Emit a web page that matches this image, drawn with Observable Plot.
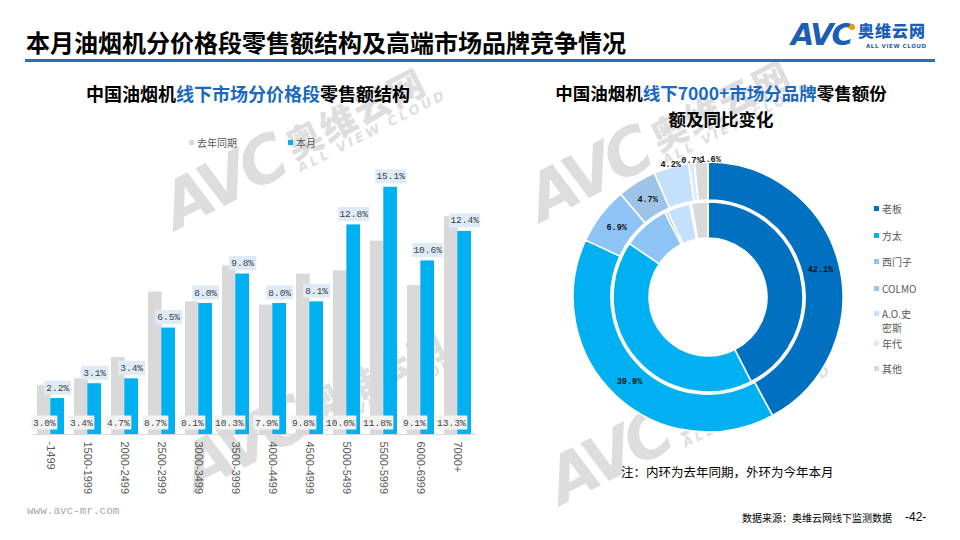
<!DOCTYPE html>
<html>
<head>
<meta charset="utf-8">
<script src="https://cdn.jsdelivr.net/npm/d3@7"></script>
<script src="https://cdn.jsdelivr.net/npm/@observablehq/plot@0.6"></script>
<style>
  body { margin: 0; background: #fff; }
  #page { position: relative; width: 960px; height: 540px; overflow: hidden; background: #fff;
          font-family: "Noto Sans CJK SC", "Noto Sans", sans-serif; }
  .abs { position: absolute; white-space: nowrap; }
  .wm { position: absolute; white-space: nowrap; transform: rotate(-27deg); transform-origin: 50% 50%;
        color: rgba(150,150,150,0.32); display: flex; align-items: flex-end; pointer-events: none; }
  .wm .a { font: italic 900 64px "DejaVu Sans"; letter-spacing: -5px; line-height: 1; }
  .wm .cn { margin-left: 10px; display: flex; flex-direction: column; white-space: nowrap; }
  .wm .c { font: 900 36px "Noto Sans CJK SC"; line-height: 1; letter-spacing: 2px; }
  .wm .e { font: italic 900 13px "DejaVu Sans"; letter-spacing: 3px; line-height: 1.3; }
  .leg { position: absolute; font-size: 10px; color: #595959; line-height: 14px; white-space: nowrap; }
  .sw { display: inline-block; width: 5px; height: 5px; margin-right: 3px; vertical-align: 2px; }
  #bars, #donut { position: absolute; }
</style>
</head>
<body>
<div id="page">
  <!-- watermarks -->
  <div class="wm" style="left:150px;top:110px;"><span class="a">AVC</span><span class="cn"><span class="c">奥维云网</span><span class="e">ALL VIEW CLOUD</span></span></div>
  <div class="wm" style="left:170px;top:372px;"><span class="a">AVC</span><span class="cn"><span class="c">奥维云网</span><span class="e">ALL VIEW CLOUD</span></span></div>
  <div class="wm" style="left:515px;top:102px;"><span class="a">AVC</span><span class="cn"><span class="c">奥维云网</span><span class="e">ALL VIEW CLOUD</span></span></div>
  <div class="wm" style="left:535px;top:385px;"><span class="a">AVC</span><span class="cn"><span class="c">奥维云网</span><span class="e">ALL VIEW CLOUD</span></span></div>

  <!-- header -->
  <div class="abs" style="left:26px;top:26px;font-size:24px;font-weight:bold;color:#000;line-height:32px;">本月油烟机分价格段零售额结构及高端市场品牌竞争情况</div>
  <div class="abs" style="left:25px;top:59px;width:910px;height:3px;background:#2f6db5;"></div>
  <div class="abs" style="left:791px;top:17px;font:italic 900 30px 'DejaVu Sans';color:#1c5db6;letter-spacing:-2px;line-height:36px;">AVC</div>
  <div class="abs" style="left:849px;top:24px;width:6px;height:6px;border-radius:3px;background:#f39800;"></div>
  <div class="abs" style="left:858px;top:21px;font-size:16px;font-weight:900;color:#1c5db6;line-height:18px;letter-spacing:1px;">奥维云网</div>
  <div class="abs" style="left:866px;top:43px;font:bold 5.5px 'DejaVu Sans';color:#1c5db6;letter-spacing:0.6px;line-height:7px;">ALL VIEW CLOUD</div>

  <!-- chart titles -->
  <div class="abs" style="left:86px;top:81px;font-size:18px;font-weight:bold;line-height:24px;color:#000;">中国油烟机<span style="color:#1b68bf">线下市场分价格段</span>零售额结构</div>
  <div class="abs" style="left:521px;top:80.3px;width:400px;text-align:center;font-size:17.5px;font-weight:bold;line-height:25.5px;color:#000;">中国油烟机<span style="color:#1b68bf">线下7000+市场分品牌</span>零售额份<br>额及同比变化</div>

  <!-- bar legend -->
  <div class="leg" style="left:189px;top:136px;line-height:13px;"><span class="sw" style="background:#d9d9d9"></span>去年同期</div>
  <div class="leg" style="left:288px;top:136px;line-height:13px;"><span class="sw" style="background:#00b0f0"></span>本月</div>

  <div id="bars" style="left:0px;top:140px;"></div>
  <div id="donut" style="left:558px;top:147px;"></div>

  <!-- donut legend -->
  <div id="dleg"></div>

  <div class="abs" style="left:621px;top:463px;font-size:12.5px;color:#000;line-height:18px;">注：内环为去年同期，外环为今年本月</div>

  <!-- footer -->
  <div class="abs" style="left:27px;top:505px;font:11px 'Liberation Mono';color:#a6a6a6;">www.avc-mr.com</div>
  <div class="abs" style="left:742px;top:511px;font-size:10px;color:#000;line-height:14px;">数据来源：奥维云网线下监测数据</div>
  <div class="abs" style="left:905px;top:509px;font:12px 'Liberation Sans';color:#000;line-height:16px;">-42-</div>
</div>

<script>
// ---------- data ----------
const priceBands = ["-1499","1500-1999","2000-2499","2500-2999","3000-3499","3500-3999",
                    "4000-4499","4500-4999","5000-5499","5500-5999","6000-6999","7000+"];
const lastYearShare  = [3.0, 3.4, 4.7, 8.7, 8.1, 10.3, 7.9, 9.8, 10.0, 11.8, 9.1, 13.3];
const thisMonthShare = [2.2, 3.1, 3.4, 6.5, 8.0, 9.8, 8.0, 8.1, 12.8, 15.1, 10.6, 12.4];
const seriesNames = ["去年同期", "本月"];
const seriesColors = ["#d9d9d9", "#00b0f0"];

const brands = ["老板", "方太", "西门子", "COLMO", "A.O.史密斯", "年代", "其他"];
const brandThisMonth = [42.1, 39.9, 6.9, 4.7, 4.2, 0.7, 1.6];
const brandLastYear  = [42.5, 42.0, 8.0, 0.5, 3.9, 0.3, 2.8];
const brandColors = ["#0070c0", "#00b0f0", "#8ec3f6", "#9dc3e6", "#c5e0fa", "#deebf7", "#d9d9d9"];
const legendLines = [["老板"], ["方太"], ["西门子"], ["COLMO"], ["A.O.史", "密斯"], ["年代"], ["其他"]];

// ---------- bar chart ----------
const barRows = priceBands.flatMap((b, i) => [
  {band: b, series: seriesNames[0], value: lastYearShare[i]},
  {band: b, series: seriesNames[1], value: thisMonthShare[i]}
]);
const grayRows = barRows.filter(d => d.series === seriesNames[0]);
const blueRows = barRows.filter(d => d.series === seriesNames[1]);
const half = 13.32;
const fmt = d => d.value.toFixed(1) + "%";
const boxSymbol = (w, h) => ({ draw(ctx) { ctx.rect(-w / 2, -h / 2, w, h); } });
const labelFont = {fontFamily: "Liberation Mono", fontSize: 9.5, fill: "#404040"};

const bars = Plot.plot({
  width: 490, height: 360,
  marginLeft: 32, marginRight: 14, marginTop: 32, marginBottom: 66,
  style: {background: "transparent", fontFamily: "Liberation Sans", fontSize: "11px"},
  x: {domain: priceBands, paddingInner: 0.28, paddingOuter: 0.14, label: null},
  y: {domain: [0, 16], axis: null},
  color: {domain: seriesNames, range: seriesColors},
  marks: [
    Plot.barY(grayRows, {x: "band", y: "value", fill: "series", insetRight: half}),
    Plot.barY(blueRows, {x: "band", y: "value", fill: "series", insetLeft: half}),
    Plot.ruleY([0], {stroke: "#d9d9d9", strokeWidth: 1}),
    Plot.dot(grayRows, {filter: d => d.value < 10, x: "band", y: d => 0, dx: -half / 2, dy: -12, symbol: boxSymbol(26, 14), fill: "#f2f2f2", stroke: "none"}),
    Plot.dot(grayRows, {filter: d => d.value >= 10, x: "band", y: d => 0, dx: -half / 2, dy: -12, symbol: boxSymbol(32, 14), fill: "#f2f2f2", stroke: "none"}),
    Plot.text(grayRows, {x: "band", y: d => 0, dx: -half / 2, dy: -12, text: fmt, ...labelFont}),
    Plot.dot(blueRows, {filter: d => d.value < 10, x: "band", y: "value", dx: half / 2, dy: -11, symbol: boxSymbol(27, 14), fill: "#deebf7", stroke: "none"}),
    Plot.dot(blueRows, {filter: d => d.value >= 10, x: "band", y: "value", dx: half / 2, dy: -11, symbol: boxSymbol(31, 14), fill: "#deebf7", stroke: "none"}),
    Plot.text(blueRows, {x: "band", y: "value", dx: half / 2, dy: -11, text: fmt, ...labelFont}),
    Plot.axisX({tickRotate: 90, tickSize: 0, tickPadding: 7, fontSize: 11, color: "#595959", label: null})
  ]
});
document.getElementById("bars").appendChild(bars);

// ---------- donut ----------
const outerRows = brands.map((b, i) => ({brand: b, value: brandThisMonth[i]}));
const innerRows = brands.map((b, i) => ({brand: b, value: brandLastYear[i]}));
const fallbackColor = d3.scaleOrdinal(brands, brandColors);

function ring(rows, r0, r1) {
  return (index, scales, values, dims) => {
    const sx = scales && scales.x ? scales.x : d3.scaleLinear([-1, 1], [0, dims.width]);
    const sy = scales && scales.y ? scales.y : d3.scaleLinear([-1, 1], [dims.height, 0]);
    const col = scales && typeof scales.color === "function" ? scales.color : fallbackColor;
    const k = sx(1) - sx(0);
    const arcs = d3.pie().sort(null).value(d => d.value)(rows);
    const arc = d3.arc().innerRadius(r0 * k).outerRadius(r1 * k);
    const g = d3.create("svg:g").attr("transform", `translate(${sx(0)},${sy(0)})`);
    g.selectAll("path").data(arcs).join("path")
      .attr("d", arc)
      .attr("fill", d => col(d.data.brand))
      .attr("stroke", "#fff").attr("stroke-width", 1.6).attr("stroke-linejoin", "round");
    return g.node();
  };
}

const outerArcs = d3.pie().sort(null).value(d => d.value)(outerRows);
const donutLabels = outerArcs.map(a => {
  const ang = (a.startAngle + a.endAngle) / 2;
  const r = a.data.value >= 4.5 ? 0.77 : 0.925;
  return {brand: a.data.brand, value: a.data.value, x: r * Math.sin(ang), y: r * Math.cos(ang)};
});
const dFont = {fontFamily: "Liberation Mono", fontSize: 8.5, fontWeight: "bold", fill: "#111"};

const donut = Plot.plot({
  width: 300, height: 300, margin: 0,
  style: {background: "transparent"},
  x: {domain: [-1, 1], axis: null},
  y: {domain: [-1, 1], axis: null},
  color: {domain: brands, range: brandColors},
  marks: [
    ring(innerRows, 0.393, 0.633),
    ring(outerRows, 0.647, 0.9),
    Plot.text(donutLabels, {filter: d => d.brand !== "其他", x: "x", y: "y", text: fmt, ...dFont}),
    Plot.text(donutLabels, {filter: d => d.brand === "其他", x: "x", y: "y", dx: 9, text: fmt, ...dFont})
  ]
});
document.getElementById("donut").appendChild(donut);

// donut legend
const legTops = [202, 229, 255, 282, 307, 337, 362];
const dleg = document.getElementById("dleg");
brands.forEach((b, i) => {
  const el = document.createElement("div");
  el.className = "leg";
  el.style.left = "874px";
  el.style.top = legTops[i] + "px";
  el.innerHTML = `<span class="sw" style="background:${brandColors[i]}"></span>` +
    legendLines[i].join("<br><span style='display:inline-block;width:8px'></span>");
  dleg.appendChild(el);
});
</script>
</body>
</html>
